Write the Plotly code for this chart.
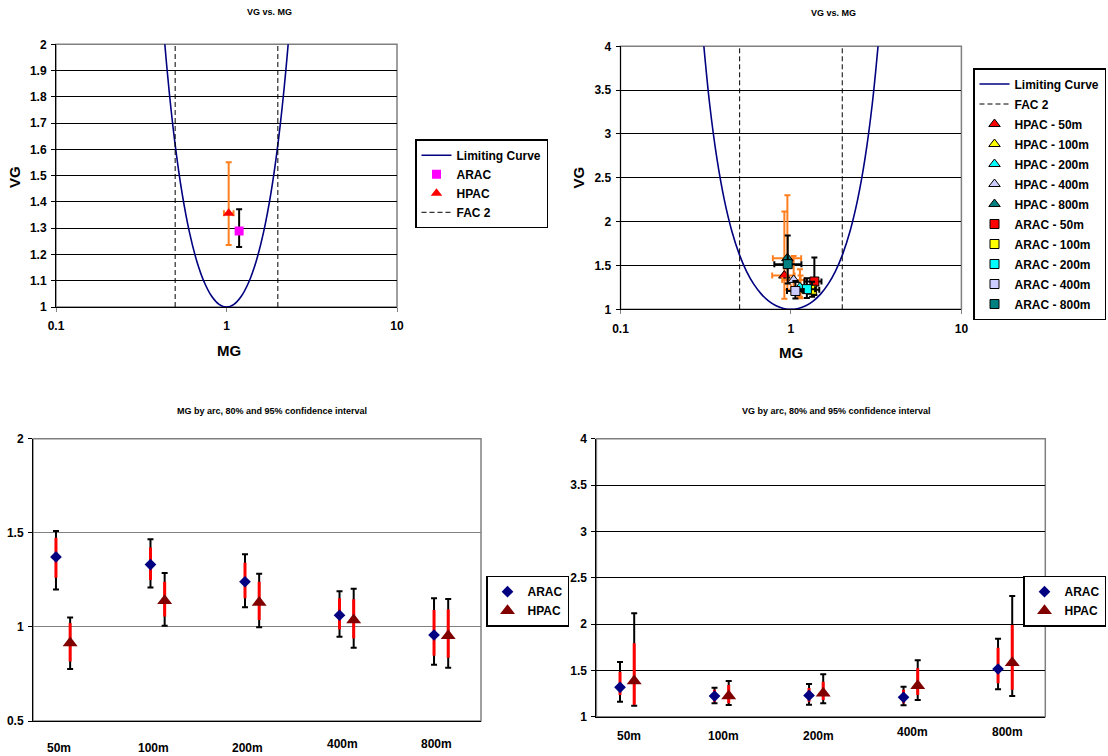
import plotly.graph_objects as go

# ---------------- data ----------------
categories = ["50m", "100m", "200m", "400m", "800m"]

# Limiting curve (MG, VG) points
curve_mg = [0.3012, 0.3329, 0.3679, 0.4066, 0.4493, 0.4966, 0.5488, 0.6065, 0.6703,
            0.7408, 0.8187, 0.9048, 1.0, 1.1052, 1.2214, 1.3499, 1.4918, 1.6487,
            1.8221, 2.0138, 2.2255, 2.4596, 2.7183, 3.0042, 3.3201]
curve_vg = [4.2207, 3.3535, 2.7183, 2.2479, 1.8965, 1.6323, 1.4333, 1.2840, 1.1735,
            1.0942, 1.0408, 1.0101, 1.0, 1.0101, 1.0408, 1.0942, 1.1735, 1.2840,
            1.4333, 1.6323, 1.8965, 2.2479, 2.7183, 3.3535, 4.2207]

# factor-of-two lines
fac2_mg = [0.5, 2.0]
fac2_vg_left = [1.0, 2.0]
fac2_vg_right = [1.0, 4.0]

# overall results (top-left chart)
overall_names = ["ARAC", "HPAC"]
overall_mg = [1.186, 1.030]
overall_mg_lo = [1.150, 0.966]
overall_mg_hi = [1.220, 1.100]
overall_vg = [1.289, 1.357]
overall_vg_lo = [1.228, 1.236]
overall_vg_hi = [1.372, 1.551]

# MG by arc
arac_mg = [1.372, 1.331, 1.240, 1.062, 0.957]
arac_mg_lo95 = [1.199, 1.209, 1.104, 0.948, 0.799]
arac_mg_hi95 = [1.510, 1.466, 1.386, 1.189, 1.152]
arac_mg_lo80 = [1.261, 1.249, 1.152, 0.987, 0.847]
arac_mg_hi80 = [1.473, 1.422, 1.341, 1.152, 1.090]

hpac_mg = [0.915, 1.139, 1.129, 1.037, 0.953]
hpac_mg_lo95 = [0.776, 1.006, 0.998, 0.889, 0.783]
hpac_mg_hi95 = [1.050, 1.286, 1.283, 1.203, 1.148]
hpac_mg_lo80 = [0.816, 1.055, 1.037, 0.939, 0.836]
hpac_mg_hi80 = [1.020, 1.240, 1.240, 1.147, 1.093]

# VG by arc
arac_vg = [1.317, 1.223, 1.230, 1.209, 1.515]
arac_vg_lo95 = [1.162, 1.144, 1.130, 1.123, 1.295]
arac_vg_hi95 = [1.590, 1.313, 1.353, 1.324, 1.842]
arac_vg_lo80 = [1.234, 1.160, 1.160, 1.144, 1.360]
arac_vg_hi80 = [1.486, 1.290, 1.310, 1.290, 1.745]

hpac_vg = [1.385, 1.223, 1.252, 1.335, 1.583]
hpac_vg_lo95 = [1.119, 1.126, 1.144, 1.180, 1.223]
hpac_vg_hi95 = [2.116, 1.385, 1.457, 1.608, 2.302]
hpac_vg_lo80 = [1.130, 1.144, 1.180, 1.234, 1.290]
hpac_vg_hi80 = [1.792, 1.342, 1.378, 1.522, 1.990]

arc_colors = ["#FF0000", "#FFFF00", "#00FFFF", "#CCCCFF", "#008080"]

# ---------------- helpers ----------------
FONT = "Liberation Sans, Arial, sans-serif"
W, H = 1108, 756
ORANGE = "#FF7F1F"


def px_x(p):
    return p / W


def px_y(p):
    return 1 - p / H


def plus(v, hi):
    return [h - a for a, h in zip(v, hi)]


def minus(v, lo):
    return [a - l for a, l in zip(v, lo)]


def b(t):
    return "<b>" + t + "</b>"


fig = go.Figure()

# ---------------- top-left: VG vs MG (overall) ----------------
fig.add_trace(go.Scatter(
    x=curve_mg, y=curve_vg, mode="lines", name=b("Limiting Curve"),
    line=dict(color="#000080", width=1.6, shape="spline"),
    xaxis="x", yaxis="y", legend="legend"))
fig.add_trace(go.Scatter(
    x=[overall_mg[0]], y=[overall_vg[0]], mode="markers", name=b(overall_names[0]),
    marker=dict(symbol="square", size=9, color="#FF00FF"),
    error_x=dict(type="data", symmetric=False, array=plus(overall_mg[:1], overall_mg_hi[:1]),
                 arrayminus=minus(overall_mg[:1], overall_mg_lo[:1]), color="black", thickness=2, width=3),
    error_y=dict(type="data", symmetric=False, array=plus(overall_vg[:1], overall_vg_hi[:1]),
                 arrayminus=minus(overall_vg[:1], overall_vg_lo[:1]), color="black", thickness=2, width=3),
    xaxis="x", yaxis="y", legend="legend"))
fig.add_trace(go.Scatter(
    x=[overall_mg[1]], y=[overall_vg[1]], mode="markers", name=b(overall_names[1]),
    marker=dict(symbol="triangle-up", size=10, color="#FF0000"),
    error_x=dict(type="data", symmetric=False, array=plus(overall_mg[1:], overall_mg_hi[1:]),
                 arrayminus=minus(overall_mg[1:], overall_mg_lo[1:]), color=ORANGE, thickness=2, width=3),
    error_y=dict(type="data", symmetric=False, array=plus(overall_vg[1:], overall_vg_hi[1:]),
                 arrayminus=minus(overall_vg[1:], overall_vg_lo[1:]), color=ORANGE, thickness=2, width=3),
    xaxis="x", yaxis="y", legend="legend"))
fig.add_trace(go.Scatter(
    x=[fac2_mg[0], fac2_mg[0], None, fac2_mg[1], fac2_mg[1]],
    y=[fac2_vg_left[0], fac2_vg_left[1], None, fac2_vg_left[0], fac2_vg_left[1]],
    mode="lines", name=b("FAC 2"), line=dict(color="#000000", width=1, dash="5px,3px"),
    xaxis="x", yaxis="y", legend="legend"))

# ---------------- top-right: VG vs MG by arc ----------------
fig.add_trace(go.Scatter(
    x=curve_mg, y=curve_vg, mode="lines", name=b("Limiting Curve"),
    line=dict(color="#000080", width=1.6, shape="spline"),
    xaxis="x2", yaxis="y2", legend="legend2", legendgroup="a0"))
fig.add_trace(go.Scatter(
    x=[fac2_mg[0], fac2_mg[0], None, fac2_mg[1], fac2_mg[1]],
    y=[fac2_vg_right[0], fac2_vg_right[1], None, fac2_vg_right[0], fac2_vg_right[1]],
    mode="lines", name=b("FAC 2"), line=dict(color="#000000", width=1, dash="5px,3px"),
    xaxis="x2", yaxis="y2", legend="legend2", legendgroup="a1"))
for i, c in enumerate(categories):
    fig.add_trace(go.Scatter(
        x=[hpac_mg[i]], y=[hpac_vg[i]], mode="markers", name=b("HPAC - " + c),
        marker=dict(symbol="triangle-up", size=10, color=arc_colors[i],
                    line=dict(color="black", width=1)),
        error_x=dict(type="data", symmetric=False, array=[hpac_mg_hi95[i] - hpac_mg[i]],
                     arrayminus=[hpac_mg[i] - hpac_mg_lo95[i]], color=ORANGE, thickness=2, width=3),
        error_y=dict(type="data", symmetric=False, array=[hpac_vg_hi95[i] - hpac_vg[i]],
                     arrayminus=[hpac_vg[i] - hpac_vg_lo95[i]], color=ORANGE, thickness=2, width=3),
        xaxis="x2", yaxis="y2", legend="legend2", legendgroup="h%d" % i))
for i, c in enumerate(categories):
    fig.add_trace(go.Scatter(
        x=[arac_mg[i]], y=[arac_vg[i]], mode="markers", name=b("ARAC - " + c),
        marker=dict(symbol="square", size=9, color=arc_colors[i],
                    line=dict(color="black", width=1)),
        error_x=dict(type="data", symmetric=False, array=[arac_mg_hi95[i] - arac_mg[i]],
                     arrayminus=[arac_mg[i] - arac_mg_lo95[i]], color="black", thickness=2, width=3),
        error_y=dict(type="data", symmetric=False, array=[arac_vg_hi95[i] - arac_vg[i]],
                     arrayminus=[arac_vg[i] - arac_vg_lo95[i]], color="black", thickness=2, width=3),
        xaxis="x2", yaxis="y2", legend="legend2", legendgroup="r%d" % i))

# ---------------- bottom charts: confidence intervals by arc ----------------
arac_x = [k + 1 for k in range(len(categories))]
hpac_x = [k + 1.15 for k in range(len(categories))]


def ci_traces(xs, v, lo95, hi95, lo80, hi80, name, symbol, size, color, xa, ya, lg):
    fig.add_trace(go.Scatter(
        x=xs, y=v, mode="markers", showlegend=False, hoverinfo="skip",
        marker=dict(size=2, color="rgba(0,0,0,0)"),
        error_y=dict(type="data", symmetric=False, array=plus(v, hi95), arrayminus=minus(v, lo95),
                     color="black", thickness=2, width=3),
        xaxis=xa, yaxis=ya))
    fig.add_trace(go.Scatter(
        x=xs, y=v, mode="markers", name=b(name),
        marker=dict(symbol=symbol, size=size, color=color),
        error_y=dict(type="data", symmetric=False, array=plus(v, hi80), arrayminus=minus(v, lo80),
                     color="#FF0000", thickness=3, width=0),
        xaxis=xa, yaxis=ya, legend=lg))


ci_traces(arac_x, arac_mg, arac_mg_lo95, arac_mg_hi95, arac_mg_lo80, arac_mg_hi80,
          "ARAC", "diamond", 9, "#000080", "x3", "y3", "legend3")
ci_traces(hpac_x, hpac_mg, hpac_mg_lo95, hpac_mg_hi95, hpac_mg_lo80, hpac_mg_hi80,
          "HPAC", "triangle-up", 13, "#800000", "x3", "y3", "legend3")
ci_traces(arac_x, arac_vg, arac_vg_lo95, arac_vg_hi95, arac_vg_lo80, arac_vg_hi80,
          "ARAC", "diamond", 9, "#000080", "x4", "y4", "legend4")
ci_traces(hpac_x, hpac_vg, hpac_vg_lo95, hpac_vg_hi95, hpac_vg_lo80, hpac_vg_hi80,
          "HPAC", "triangle-up", 13, "#800000", "x4", "y4", "legend4")

# ---------------- layout ----------------
tick_font = dict(family=FONT, size=12, color="black")
title_font = dict(family=FONT, size=15, color="black")


def yticks(lo, hi, step):
    n = int(round((hi - lo) / step))
    vals = [round(lo + k * step, 4) for k in range(n + 1)]
    return dict(tickvals=vals, ticktext=[b("%g" % v) for v in vals])


common_y = dict(showline=True, linecolor="black", linewidth=1, ticks="outside", ticklen=4,
                tickcolor="black", tickfont=tick_font, zeroline=False, showgrid=True,
                gridwidth=1, automargin=False, ticklabelstandoff=2)
log_x = dict(type="log", range=[-1, 1], tickvals=[0.1, 1, 10],
             ticktext=[b("0.1"), b("1"), b("10")],
             showline=True, linecolor="black", ticks="outside", ticklen=4, tickcolor="#808080",
             tickfont=tick_font, showgrid=False, zeroline=False, automargin=False,
             ticklabelstandoff=4)
cat_x = dict(range=[0.75, 5.5], showline=True, linecolor="black", showticklabels=False,
             ticks="", showgrid=False, zeroline=False, automargin=False)


def legend_box(x, y, xanchor="left"):
    return dict(x=x, y=y, xanchor=xanchor, yanchor="top", bgcolor="white",
                bordercolor="black", borderwidth=1.5, tracegroupgap=1,
                font=dict(family=FONT, size=12, color="black"),
                itemclick=False, itemdoubleclick=False)


fig.update_layout(
    width=W, height=H, margin=dict(l=0, r=0, t=0, b=0, autoexpand=False),
    paper_bgcolor="white", plot_bgcolor="white",
    font=dict(family=FONT, color="black"),
    xaxis=dict(log_x, domain=[px_x(56), px_x(397)], anchor="y"),
    yaxis=dict(common_y, range=[1, 2], gridcolor="black", **yticks(1, 2, 0.1),
               domain=[px_y(307), px_y(44.3)], anchor="x"),
    xaxis2=dict(log_x, domain=[px_x(620.5), px_x(961.4)], anchor="y2"),
    yaxis2=dict(common_y, range=[1, 4], gridcolor="black", **yticks(1, 4, 0.5),
                domain=[px_y(309.3), px_y(46.3)], anchor="x2"),
    xaxis3=dict(cat_x, range=[0.757, 5.497], domain=[px_x(33), px_x(481)], anchor="y3"),
    yaxis3=dict(common_y, range=[0.5, 2], gridcolor="#808080", **yticks(0.5, 2, 0.5),
                domain=[px_y(721), px_y(438.7)], anchor="x3"),
    xaxis4=dict(cat_x, domain=[px_x(596.4), px_x(1045.3)], anchor="y4"),
    yaxis4=dict(common_y, range=[1, 4], gridcolor="black", **yticks(1, 4, 0.5),
                domain=[px_y(716.7), px_y(438.7)], anchor="x4"),
    legend=legend_box(px_x(415), px_y(139.3)),
    legend2=legend_box(px_x(1106), px_y(68), "right"),
    legend3=legend_box(px_x(486), px_y(575.7)),
    legend4=legend_box(px_x(1106), px_y(575.7), "right"),
    showlegend=True,
)

# plot-area borders (gray, as in the original)
for sx, sy in [("x", "y"), ("x2", "y2"), ("x3", "y3"), ("x4", "y4")]:
    fig.add_shape(type="rect", xref=sx + " domain", yref=sy + " domain", x0=0, x1=1, y0=0, y1=1,
                  line=dict(color="#808080", width=1.5), layer="below")

# chart titles
small_title = dict(family=FONT, size=9, color="black")
for txt, cx, cy in [("VG vs. MG", 269, 12), ("VG vs. MG", 833, 13),
                    ("MG by arc, 80% and 95% confidence interval", 272, 411),
                    ("VG by arc, 80% and 95% confidence interval", 836, 411)]:
    fig.add_annotation(text=b(txt), x=px_x(cx), y=px_y(cy), xref="paper", yref="paper",
                       showarrow=False, font=small_title, xanchor="center", yanchor="middle")

# axis titles
for txt, cx, cy, ang in [("VG", 14, 177, -90), ("MG", 229, 350, 0),
                         ("VG", 577.5, 178, -90), ("MG", 791, 352, 0)]:
    fig.add_annotation(text=b(txt), x=px_x(cx), y=px_y(cy), xref="paper", yref="paper",
                       showarrow=False, font=title_font, textangle=ang,
                       xanchor="center", yanchor="middle")

# category labels under the bottom charts
for k, c in enumerate(categories):
    fig.add_annotation(text=b(c), x=arac_x[k] + 0.03, xref="x3", y=0, yref="y3 domain",
                       yshift=-(27 if k < 3 else 23), showarrow=False, font=tick_font,
                       yanchor="middle")
    fig.add_annotation(text=b(c), x=arac_x[k] + 0.1, xref="x4", y=0, yref="y4 domain",
                       yshift=-(19 if k < 3 else 15), showarrow=False, font=tick_font,
                       yanchor="middle")

# the page is exactly the figure: no default body margin around it, no toolbar
fig.write_html("out.html", config={"displayModeBar": False},
               post_script="document.body.style.margin='0';")
